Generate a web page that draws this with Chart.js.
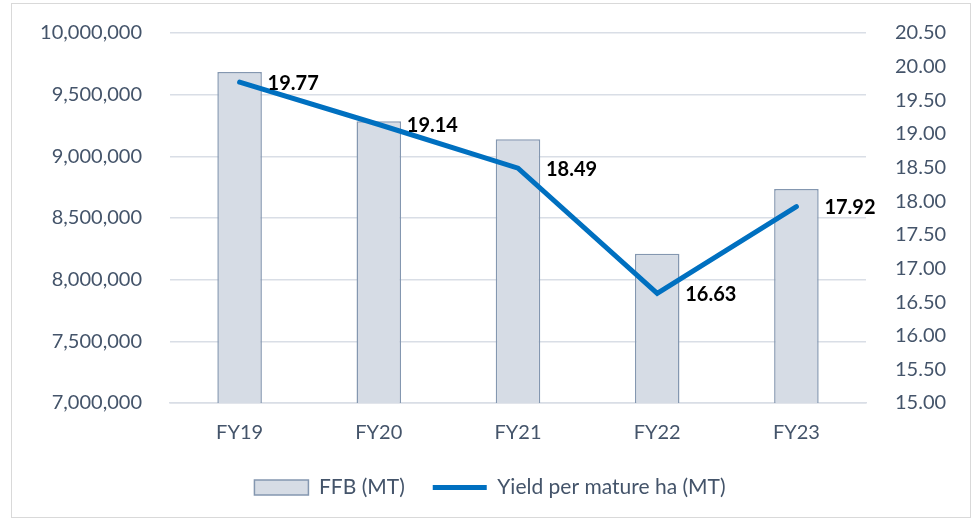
<!DOCTYPE html>
<html>
<head>
<meta charset="utf-8">
<script src="https://cdn.jsdelivr.net/npm/chart.js@4.4.0/dist/chart.umd.min.js"></script>
<style>
  html, body { margin: 0; padding: 0; background: #fff; }
  #wrap { position: relative; width: 976px; height: 522px; }
  #frame { position: absolute; left: 11px; top: 3px; width: 958px; height: 513px; border: 1px solid #D9D9D9; }
  canvas { position: absolute; left: 0; top: 0; }
</style>
</head>
<body>
<div id="wrap">
  <div id="frame"></div>
  <canvas id="mychart" width="976" height="522"></canvas>
</div>
<script>
// Chart data
const years = ["FY19", "FY20", "FY21", "FY22", "FY23"];
const ffb = [9683000, 9285000, 9138000, 8211000, 8735000];
const yieldPerHa = [19.77, 19.14, 18.49, 16.63, 17.92];

const textColor = "#44546A";
const gridColor = "#D9DEE6";
Chart.defaults.font.family = "Lato, 'Noto Sans', sans-serif";

// draws the value labels next to the line points
const lineLabels = {
  id: "lineLabels",
  afterDatasetsDraw(chart) {
    const meta = chart.getDatasetMeta(1);
    const c = chart.ctx;
    c.save();
    c.font = "bold 20px Lato, 'Noto Sans', sans-serif";
    c.fillStyle = "#000";
    c.textAlign = "left";
    c.textBaseline = "middle";
    meta.data.forEach((pt, i) => {
      c.fillText(yieldPerHa[i].toFixed(2), pt.x + 28, pt.y + 1);
    });
    c.restore();
  },
};

const ctx = document.getElementById("mychart").getContext("2d");

let myChart = new Chart(ctx, {
  type: "bar",
  data: {
    labels: years,
    datasets: [
      {
        type: "bar",
        label: "FFB (MT)",
        data: ffb,
        backgroundColor: "#D6DCE5",
        borderColor: "#8497B0",
        borderWidth: 1.5,
        barPercentage: 0.32,
        categoryPercentage: 1,
        yAxisID: "y",
        order: 1,
        pointStyle: "rect",
      },
      {
        type: "line",
        label: "Yield per mature ha (MT)",
        data: yieldPerHa,
        borderColor: "#0070C0",
        backgroundColor: "#0070C0",
        borderWidth: 5,
        borderCapStyle: "round",
        tension: 0,
        pointRadius: 0,
        yAxisID: "y1",
        order: 0,
        pointStyle: "line",
      },
    ],
  },
  options: {
    responsive: false,
    animation: false,
    layout: { padding: { left: 12, right: 8, top: 33, bottom: 14 } },
    plugins: {
      tooltip: { enabled: false },
      legend: {
        position: "bottom",
        labels: {
          usePointStyle: true,
          pointStyleWidth: 54,
          boxHeight: 15,
          padding: 28,
          color: textColor,
          font: { size: 21 },
          sort: (a, b) => a.datasetIndex - b.datasetIndex,
        },
      },
    },
    scales: {
      x: {
        grid: { display: false, drawTicks: false },
        border: { display: true, color: gridColor, width: 1.5 },
        ticks: { color: textColor, font: { size: 20 }, padding: 18 },
        afterFit(scale) { scale.height = 46; },
      },
      y: {
        position: "left",
        min: 7000000,
        max: 10000000,
        ticks: {
          stepSize: 500000,
          color: textColor,
          font: { size: 20 },
          padding: 0,
          callback: (v) => v.toLocaleString("en-US"),
        },
        grid: { color: gridColor, lineWidth: 1.5, drawTicks: true, tickLength: 28, tickColor: "rgba(0,0,0,0)" },
        border: { display: false },
        afterFit(scale) { scale.width = 158; },
      },
      y1: {
        position: "right",
        min: 15,
        max: 20.5,
        ticks: {
          stepSize: 0.5,
          color: textColor,
          font: { size: 20 },
          padding: 0,
          callback: (v) => v.toFixed(2),
        },
        grid: { display: true, drawOnChartArea: false, drawTicks: true, tickLength: 29, tickColor: "rgba(0,0,0,0)" },
        border: { display: false },
        afterFit(scale) { scale.width = 102; },
      },
    },
  },
  plugins: [lineLabels],
});
</script>
</body>
</html>
